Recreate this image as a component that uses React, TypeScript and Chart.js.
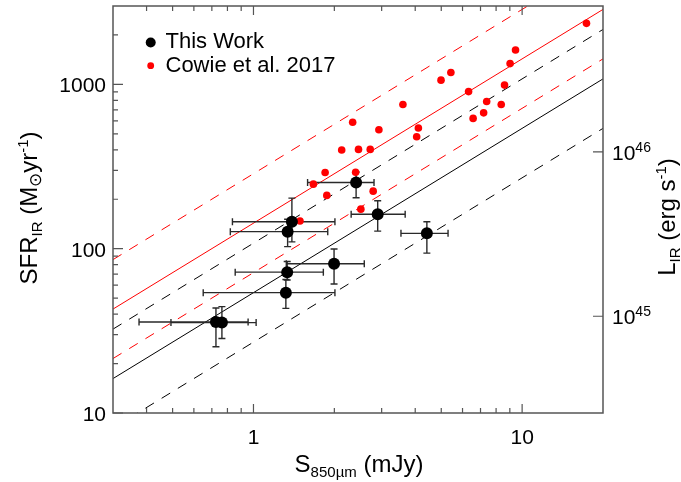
import React, { useEffect, useRef } from "react";
import { Chart, registerables } from "chart.js";

Chart.register(...registerables);

// This Work: 850 micron flux density (mJy) with asymmetric errors
const thisWorkFlux = [2.41, 2.9, 4.42, 1.39, 1.34, 1.335, 1.32, 1.995, 0.725, 0.763];
const thisWorkFluxErrLow = [0.82, 0.59, 0.88, 0.555, 0.52, 0.48, 0.67, 0.67, 0.35, 0.27];
const thisWorkFluxErrHigh = [0.4, 0.77, 0.88, 0.62, 0.55, 0.485, 0.69, 0.59, 0.23, 0.26];
// This Work: IR star-formation rate (M_sun / yr) with asymmetric errors
const thisWorkSfr = [253, 162, 124, 146, 127, 72, 54, 81, 35.8, 35.5];
const thisWorkSfrErrLow = [49, 34, 30, 36, 24, 7.5, 10.7, 20, 10.5, 7.1];
const thisWorkSfrErrHigh = [40, 34, 22, 57, 24, 11.5, 11, 18.6, 7.8, 8.9];

// Cowie et al. 2017 sample
const cowieFlux = [
  1.49, 1.671, 1.848, 1.875, 2.13, 2.34, 2.4, 2.46, 2.51, 2.72, 2.79, 2.93, 3.6,
  4.05, 4.11, 4.99, 5.43, 6.32, 6.57, 7.19, 7.38, 8.36, 8.6, 9.02, 9.45, 17.36,
];
const cowieSfr = [
  147.5, 247, 291, 211, 399, 588, 292, 402, 174, 402, 224, 530, 755,
  480, 543, 1061, 1181, 904, 621, 671, 787, 755, 990, 1338, 1618, 2353,
];

// Linear SFR–flux relations (SFR = ratio * S) and their factor-of-two bands
const relationFlux = [0.3, 20];
const thisWorkRatio = 54;
const cowieRatio = 143;
const bandFactors = [0.5, 2];

// Axis ticks
const fluxMajorTicks = [1, 10];
const fluxMajorLabels = ["1", "10"];
const fluxMinorTicks = [0.4, 0.5, 0.6, 0.7, 0.8, 0.9, 2, 3, 4, 5, 6, 7, 8, 9];
const sfrMajorTicks = [10, 100, 1000];
const sfrMajorLabels = ["10", "100", "1000"];
const sfrMinorTicks = [20, 30, 40, 50, 60, 70, 80, 90, 200, 300, 400, 500, 600, 700, 800, 900, 2000];
const lirTicks = [1e45, 1e46];
const lirTickExponents = ["45", "46"];
const sfrPerLir = 3.88e-44; // M_sun/yr per erg/s

const FAMILY = '"Liberation Sans", Arial, Helvetica, sans-serif';
const font = (px: number) => `${px}px ${FAMILY}`;
const AXIS_COLOR = "#555555";

type Run = { text: string; size: number; shift: number };

function runsWidth(ctx: CanvasRenderingContext2D, runs: Run[]) {
  let w = 0;
  for (const r of runs) {
    ctx.font = font(r.size);
    w += ctx.measureText(r.text).width;
  }
  return w;
}

function drawRuns(ctx: CanvasRenderingContext2D, runs: Run[], x: number, y: number) {
  let cx = x;
  ctx.textAlign = "left";
  ctx.textBaseline = "alphabetic";
  for (const r of runs) {
    ctx.font = font(r.size);
    ctx.fillText(r.text, cx, y + r.shift);
    cx += ctx.measureText(r.text).width;
  }
}

const errorBarPlugin = {
  id: "errorBars",
  beforeDatasetDraw(chart: any, args: any) {
    if (chart.data.datasets[args.index].label !== "Cowie et al. 2017") return;
    const { ctx } = chart;
    const xs = chart.scales.x;
    const ys = chart.scales.y;
    ctx.save();
    ctx.strokeStyle = "#2a2a2a";
    ctx.lineWidth = 1.4;
    const cap = 3.5;
    thisWorkFlux.forEach((s, i) => {
      const sfr = thisWorkSfr[i];
      const px = xs.getPixelForValue(s);
      const py = ys.getPixelForValue(sfr);
      const x0 = xs.getPixelForValue(s - thisWorkFluxErrLow[i]);
      const x1 = xs.getPixelForValue(s + thisWorkFluxErrHigh[i]);
      const y0 = ys.getPixelForValue(sfr - thisWorkSfrErrLow[i]);
      const y1 = ys.getPixelForValue(sfr + thisWorkSfrErrHigh[i]);
      ctx.beginPath();
      ctx.moveTo(x0, py);
      ctx.lineTo(x1, py);
      ctx.moveTo(x0, py - cap);
      ctx.lineTo(x0, py + cap);
      ctx.moveTo(x1, py - cap);
      ctx.lineTo(x1, py + cap);
      ctx.moveTo(px, y0);
      ctx.lineTo(px, y1);
      ctx.moveTo(px - cap, y0);
      ctx.lineTo(px + cap, y0);
      ctx.moveTo(px - cap, y1);
      ctx.lineTo(px + cap, y1);
      ctx.stroke();
    });
    ctx.restore();
  },
};

const axesPlugin = {
  id: "framedAxes",
  afterDraw(chart: any) {
    const { ctx, chartArea } = chart;
    const { left, right, top, bottom } = chartArea;
    const xs = chart.scales.x;
    const ys = chart.scales.y;
    const yl = chart.scales.yL;
    ctx.save();

    // frame
    ctx.strokeStyle = AXIS_COLOR;
    ctx.lineWidth = 1.5;
    ctx.strokeRect(left, top, right - left, bottom - top);

    // ticks
    ctx.lineWidth = 1.2;
    ctx.beginPath();
    const xTick = (v: number, len: number) => {
      const p = xs.getPixelForValue(v);
      ctx.moveTo(p, bottom);
      ctx.lineTo(p, bottom - len);
      ctx.moveTo(p, top);
      ctx.lineTo(p, top + len);
    };
    fluxMajorTicks.forEach((v) => xTick(v, 9));
    fluxMinorTicks.forEach((v) => xTick(v, 5));
    const yTick = (v: number, len: number) => {
      const p = ys.getPixelForValue(v);
      ctx.moveTo(left, p);
      ctx.lineTo(left + len, p);
    };
    sfrMajorTicks.forEach((v) => yTick(v, 10));
    sfrMinorTicks.forEach((v) => yTick(v, 5));
    lirTicks.forEach((v) => {
      const p = yl.getPixelForValue(v);
      ctx.moveTo(right, p);
      ctx.lineTo(right - 10, p);
    });
    ctx.stroke();

    ctx.fillStyle = "#000";
    // bottom tick labels
    ctx.font = font(21);
    ctx.textAlign = "center";
    ctx.textBaseline = "alphabetic";
    fluxMajorTicks.forEach((v, i) => {
      ctx.fillText(fluxMajorLabels[i], xs.getPixelForValue(v), 444);
    });
    // left tick labels
    ctx.textAlign = "right";
    sfrMajorTicks.forEach((v, i) => {
      ctx.fillText(sfrMajorLabels[i], left - 7, ys.getPixelForValue(v) + 8);
    });
    // right tick labels (powers of ten)
    lirTicks.forEach((v, i) => {
      const p = yl.getPixelForValue(v);
      drawRuns(
        ctx,
        [
          { text: "10", size: 21, shift: 0 },
          { text: lirTickExponents[i], size: 14, shift: -8 },
        ],
        right + 9,
        p + 8
      );
    });

    // x title
    const xTitle: Run[] = [
      { text: "S", size: 24, shift: 0 },
      { text: "850\u00b5m", size: 15, shift: 5 },
      { text: " (mJy)", size: 24, shift: 0 },
    ];
    const xw = runsWidth(ctx, xTitle);
    drawRuns(ctx, xTitle, 359 - xw / 2, 471.5);

    // left title
    const yTitle: Run[] = [
      { text: "SFR", size: 24, shift: 0 },
      { text: "IR", size: 15, shift: 5 },
      { text: " (M", size: 24, shift: 0 },
      { text: "\u2299", size: 17, shift: 4 },
      { text: "yr", size: 24, shift: 0 },
      { text: "-1", size: 15, shift: -9 },
      { text: ")", size: 24, shift: 0 },
    ];
    const yw = runsWidth(ctx, yTitle);
    ctx.save();
    ctx.translate(37, 208);
    ctx.rotate(-Math.PI / 2);
    drawRuns(ctx, yTitle, -yw / 2, 0);
    ctx.restore();

    // right title
    const rTitle: Run[] = [
      { text: "L", size: 24, shift: 0 },
      { text: "IR", size: 15, shift: 5 },
      { text: " (erg s", size: 24, shift: 0 },
      { text: "-1", size: 15, shift: -9 },
      { text: ")", size: 24, shift: 0 },
    ];
    const rw = runsWidth(ctx, rTitle);
    ctx.save();
    ctx.translate(675, 217);
    ctx.rotate(-Math.PI / 2);
    drawRuns(ctx, rTitle, -rw / 2, 0);
    ctx.restore();

    // legend
    ctx.fillStyle = "#000";
    ctx.beginPath();
    ctx.arc(150.7, 42.5, 5, 0, Math.PI * 2);
    ctx.fill();
    ctx.fillStyle = "#ff0000";
    ctx.beginPath();
    ctx.arc(150.7, 65.7, 3.4, 0, Math.PI * 2);
    ctx.fill();
    ctx.fillStyle = "#000";
    ctx.font = font(22);
    ctx.textAlign = "left";
    ctx.textBaseline = "alphabetic";
    ctx.fillText("This Work", 165.5, 48.3);
    ctx.fillText("Cowie et al. 2017", 165.5, 71.7);

    ctx.restore();
  },
};

function relationLine(ratio: number, color: string, dashed: boolean) {
  return {
    type: "line" as const,
    label: "",
    data: relationFlux.map((s) => ({ x: s, y: ratio * s })),
    borderColor: color,
    borderWidth: 1,
    borderDash: dashed ? [10, 9] : [],
    pointRadius: 0,
    fill: false,
    order: 2,
  };
}

export default function App() {
  const canvasRef = useRef<HTMLCanvasElement | null>(null);

  useEffect(() => {
    const canvas = canvasRef.current;
    if (!canvas) return;

    const lines = [
      relationLine(thisWorkRatio, "#000000", false),
      ...bandFactors.map((f) => relationLine(thisWorkRatio * f, "#000000", true)),
      relationLine(cowieRatio, "#ff0000", false),
      ...bandFactors.map((f) => relationLine(cowieRatio * f, "#ff0000", true)),
    ];

    const chart = new Chart(canvas, {
      type: "scatter",
      data: {
        datasets: [
          {
            label: "This Work",
            data: thisWorkFlux.map((s, i) => ({ x: s, y: thisWorkSfr[i] })),
            backgroundColor: "#000000",
            borderWidth: 0,
            pointRadius: 6,
            order: 0,
          },
          {
            label: "Cowie et al. 2017",
            data: cowieFlux.map((s, i) => ({ x: s, y: cowieSfr[i] })),
            backgroundColor: "#ff0000",
            borderWidth: 0,
            pointRadius: 3.8,
            order: 1,
          },
          ...lines,
        ] as any,
      },
      options: {
        responsive: false,
        animation: false,
        devicePixelRatio: 1,
        layout: { padding: { left: 113, right: 78, top: 2, bottom: 69 } },
        scales: {
          x: { type: "logarithmic", min: 0.3, max: 20, display: false },
          y: { type: "logarithmic", min: 10, max: 3000, display: false },
          yL: {
            type: "logarithmic",
            position: "right",
            min: 10 / sfrPerLir,
            max: 3000 / sfrPerLir,
            display: false,
          },
        },
        plugins: {
          legend: { display: false },
          tooltip: { enabled: false },
        },
      },
      plugins: [errorBarPlugin, axesPlugin],
    });

    return () => chart.destroy();
  }, []);

  return (
    <div style={{ position: "absolute", left: 0, top: 0, width: 681, height: 482, background: "#fff" }}>
      <canvas ref={canvasRef} width={681} height={482} style={{ display: "block" }} />
    </div>
  );
}
